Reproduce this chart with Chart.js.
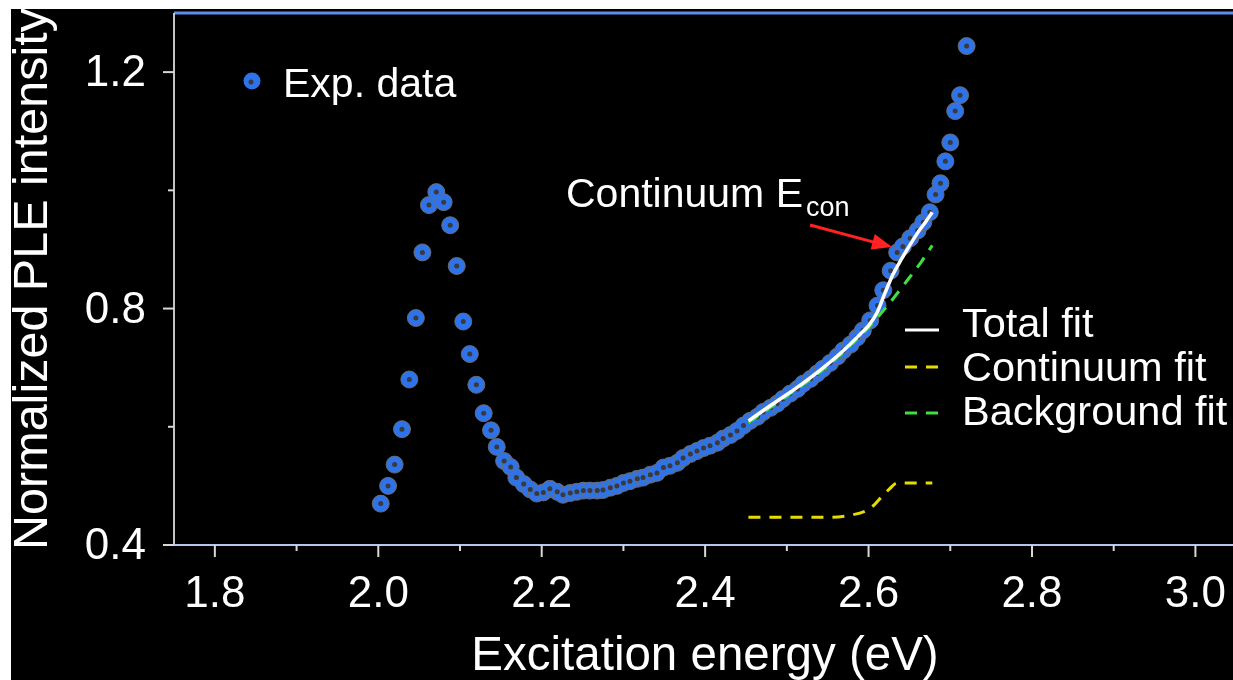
<!DOCTYPE html>
<html>
<head>
<meta charset="utf-8">
<script src="https://cdn.jsdelivr.net/npm/chart.js@4/dist/chart.umd.min.js"></script>
<style>
  html, body { margin: 0; padding: 0; background: #000; overflow: hidden; }
  #wrap { position: absolute; left: 0; top: 0; width: 1233px; height: 680px; }
  #ple-chart { display: block; }
</style>
</head>
<body>
<div id="wrap"><canvas id="ple-chart"></canvas></div>
<script>
// PLE spectrum
const expEnergy = [
    2.003, 2.012, 2.020, 2.029, 2.038, 2.046, 2.054, 2.062, 2.071, 2.080,
    2.088, 2.096, 2.104, 2.112, 2.120, 2.129, 2.138, 2.145, 2.154, 2.162,
    2.169, 2.178, 2.186, 2.194, 2.202, 2.210, 2.219, 2.226, 2.235, 2.243,
    2.251, 2.259, 2.268, 2.275, 2.284, 2.292, 2.300, 2.308, 2.317, 2.324,
    2.333, 2.341, 2.349, 2.357, 2.366, 2.373, 2.382, 2.390, 2.398, 2.406,
    2.415, 2.422, 2.431, 2.439, 2.447, 2.455, 2.464, 2.471, 2.480, 2.488,
    2.495, 2.504, 2.513, 2.520, 2.529, 2.537, 2.544, 2.553, 2.562, 2.569,
    2.578, 2.586, 2.593, 2.602, 2.611, 2.618, 2.627, 2.635, 2.642, 2.651,
    2.660, 2.667, 2.675, 2.682, 2.688, 2.694, 2.700, 2.706, 2.712, 2.720
];
const expIntensity = [
    0.470, 0.500, 0.536, 0.596, 0.680, 0.784, 0.895, 0.975, 0.997, 0.980,
    0.941, 0.872, 0.778, 0.723, 0.671, 0.623, 0.594, 0.566, 0.542, 0.532,
    0.514, 0.503, 0.494, 0.487, 0.489, 0.495, 0.490, 0.485, 0.488, 0.490,
    0.492, 0.492, 0.492, 0.493, 0.497, 0.500, 0.505, 0.508, 0.512, 0.514,
    0.519, 0.522, 0.531, 0.534, 0.539, 0.547, 0.554, 0.559, 0.564, 0.568,
    0.573, 0.580, 0.586, 0.593, 0.602, 0.610, 0.617, 0.625, 0.632, 0.639,
    0.647, 0.656, 0.664, 0.673, 0.681, 0.690, 0.698, 0.708, 0.719, 0.729,
    0.739, 0.751, 0.763, 0.780, 0.805, 0.831, 0.864, 0.895, 0.905, 0.919,
    0.932, 0.946, 0.963, 0.993, 1.012, 1.049, 1.081, 1.134, 1.161, 1.244
];

const totalFitEnergy = [2.453, 2.480, 2.510, 2.540, 2.570, 2.590, 2.600, 2.610, 2.620, 2.630, 2.640, 2.650, 2.660, 2.670, 2.678];
const totalFitValue  = [0.610, 0.636, 0.664, 0.695, 0.730, 0.757, 0.771, 0.792, 0.826, 0.858, 0.883, 0.906, 0.928, 0.947, 0.963];

const contFitEnergy = [2.453, 2.500, 2.550, 2.580, 2.597, 2.607, 2.615, 2.625, 2.635, 2.655, 2.678];
const contFitValue  = [0.447, 0.447, 0.447, 0.451, 0.458, 0.468, 0.480, 0.494, 0.505, 0.505, 0.505];

const bgFitEnergy = [2.453, 2.500, 2.550, 2.600, 2.625, 2.647, 2.665, 2.678];
const bgFitValue  = [0.607, 0.652, 0.703, 0.768, 0.808, 0.847, 0.880, 0.907];

const xMajorTicks = [1.8, 2.0, 2.2, 2.4, 2.6, 2.8, 3.0];
const xMinorTicks = [1.9, 2.1, 2.3, 2.5, 2.7, 2.9];
const yMajorTicks = [0.4, 0.8, 1.2];
const yMinorTicks = [0.6, 1.0];

const FONT = '"Liberation Sans", Arial, Helvetica, sans-serif';
const BLUE = '#2f73ea';

const toPoints = (xs, ys) => xs.map((x, i) => ({ x, y: ys[i] }));

// background, axes, tick marks and all the text
const figureDecor = {
    id: 'figureDecor',
    beforeDraw(chart) {
        const ctx = chart.ctx;
        ctx.save();
        ctx.fillStyle = '#ffffff';
        ctx.fillRect(0, 0, chart.width, chart.height);
        ctx.fillStyle = '#000000';
        ctx.fillRect(11, 9, chart.width, chart.height);
        ctx.restore();
    },
    beforeDatasetsDraw(chart) {
        const { ctx, chartArea: a, scales: { x, y } } = chart;
        ctx.save();
        // top frame
        ctx.strokeStyle = '#5b8ff0';
        ctx.lineWidth = 3;
        ctx.beginPath();
        ctx.moveTo(a.left, a.top);
        ctx.lineTo(a.right, a.top);
        ctx.stroke();
        // left axis
        ctx.strokeStyle = '#c4c4c4';
        ctx.lineWidth = 2;
        ctx.beginPath();
        ctx.moveTo(a.left, a.top);
        ctx.lineTo(a.left, a.bottom);
        ctx.stroke();
        // bottom axis
        ctx.strokeStyle = '#b4c6f0';
        ctx.beginPath();
        ctx.moveTo(a.left - 11, a.bottom);
        ctx.lineTo(a.right, a.bottom);
        ctx.stroke();

        ctx.strokeStyle = '#d8d8d8';
        ctx.lineWidth = 2;
        xMajorTicks.forEach(v => {
            const px = x.getPixelForValue(v);
            ctx.beginPath(); ctx.moveTo(px, a.bottom); ctx.lineTo(px, a.bottom + 12); ctx.stroke();
        });
        xMinorTicks.forEach(v => {
            const px = x.getPixelForValue(v);
            ctx.beginPath(); ctx.moveTo(px, a.bottom); ctx.lineTo(px, a.bottom + 6); ctx.stroke();
        });
        yMajorTicks.forEach(v => {
            const py = y.getPixelForValue(v);
            ctx.beginPath(); ctx.moveTo(a.left - 11, py); ctx.lineTo(a.left, py); ctx.stroke();
        });
        yMinorTicks.forEach(v => {
            const py = y.getPixelForValue(v);
            ctx.beginPath(); ctx.moveTo(a.left - 6, py); ctx.lineTo(a.left, py); ctx.stroke();
        });
        ctx.restore();
    },
    afterDraw(chart) {
        const { ctx, chartArea: a, scales: { x, y } } = chart;
        ctx.save();
        ctx.fillStyle = '#ffffff';

        // tick labels
        ctx.font = `44px ${FONT}`;
        ctx.textBaseline = 'alphabetic';
        ctx.textAlign = 'center';
        xMajorTicks.forEach(v => {
            ctx.fillText(v.toFixed(1), x.getPixelForValue(v), a.bottom + 62);
        });
        ctx.textAlign = 'right';
        yMajorTicks.forEach(v => {
            ctx.fillText(v.toFixed(1), 146, y.getPixelForValue(v) + 14);
        });

        // axis titles
        ctx.font = `47.5px ${FONT}`;
        ctx.textAlign = 'center';
        ctx.fillText('Excitation energy (eV)', 705, 670);
        ctx.save();
        ctx.translate(34, 279);
        ctx.rotate(-Math.PI / 2);
        ctx.textBaseline = 'middle';
        ctx.font = `48.5px ${FONT}`;
        ctx.fillText('Normalized PLE intensity', 0, 0);
        ctx.restore();

        // legend: Exp. data
        ctx.beginPath();
        ctx.arc(252, 81, 8.5, 0, Math.PI * 2);
        ctx.fillStyle = BLUE;
        ctx.fill();
        ctx.beginPath();
        ctx.arc(251, 82, 2.5, 0, Math.PI * 2);
        ctx.fillStyle = '#3a3a3a';
        ctx.fill();
        ctx.fillStyle = '#ffffff';
        ctx.font = `41px ${FONT}`;
        ctx.textAlign = 'left';
        ctx.fillText('Exp. data', 283, 97);

        // legend: fits
        const rows = [
            { label: 'Total fit', color: '#ffffff', dash: [], y: 330, base: 337 },
            { label: 'Continuum fit', color: '#e6dc00', dash: [12, 9], y: 367, base: 381 },
            { label: 'Background fit', color: '#3ee03e', dash: [12, 9], y: 413, base: 425 }
        ];
        ctx.font = `41.5px ${FONT}`;
        rows.forEach(r => {
            ctx.save();
            ctx.strokeStyle = r.color;
            ctx.lineWidth = 3;
            ctx.setLineDash(r.dash);
            ctx.beginPath();
            ctx.moveTo(905, r.y);
            ctx.lineTo(939, r.y);
            ctx.stroke();
            ctx.restore();
            ctx.fillText(r.label, 962, r.base);
        });

        // annotation
        ctx.font = `41px ${FONT}`;
        const mainText = 'Continuum E';
        ctx.fillText(mainText, 566, 207);
        const subX = 566 + ctx.measureText(mainText).width + 3;
        ctx.font = `27px ${FONT}`;
        ctx.fillText('con', subX, 216);

        // red arrow
        const tx = 892, ty = 247, sx = 810, sy = 225;
        const ang = Math.atan2(ty - sy, tx - sx);
        ctx.strokeStyle = '#ff2222';
        ctx.fillStyle = '#ff2222';
        ctx.lineWidth = 3;
        ctx.beginPath();
        ctx.moveTo(sx, sy);
        ctx.lineTo(tx - 16 * Math.cos(ang), ty - 16 * Math.sin(ang));
        ctx.stroke();
        ctx.beginPath();
        ctx.moveTo(tx, ty);
        ctx.lineTo(tx - 20 * Math.cos(ang) + 8 * Math.sin(ang), ty - 20 * Math.sin(ang) - 8 * Math.cos(ang));
        ctx.lineTo(tx - 20 * Math.cos(ang) - 8 * Math.sin(ang), ty - 20 * Math.sin(ang) + 8 * Math.cos(ang));
        ctx.closePath();
        ctx.fill();

        ctx.restore();
    }
};

const expPoints = toPoints(expEnergy, expIntensity);

new Chart(document.getElementById('ple-chart'), {
    type: 'scatter',
    data: {
        datasets: [
            {
                label: 'Total fit',
                data: toPoints(totalFitEnergy, totalFitValue),
                showLine: true,
                borderColor: '#ffffff',
                borderWidth: 3.5,
                pointRadius: 0,
                cubicInterpolationMode: 'monotone',
                order: 0
            },
            {
                label: 'Continuum fit',
                data: toPoints(contFitEnergy, contFitValue),
                showLine: true,
                borderColor: '#e6dc00',
                borderWidth: 3,
                borderDash: [12, 9],
                pointRadius: 0,
                cubicInterpolationMode: 'monotone',
                order: 0
            },
            {
                label: 'Background fit',
                data: toPoints(bgFitEnergy, bgFitValue),
                showLine: true,
                borderColor: '#3ee03e',
                borderWidth: 3,
                borderDash: [12, 9],
                pointRadius: 0,
                cubicInterpolationMode: 'monotone',
                order: 0
            },
            {
                label: 'Exp. data centres',
                data: expPoints,
                pointRadius: 2.5,
                pointBackgroundColor: '#3a3a3a',
                pointBorderWidth: 0,
                order: 1
            },
            {
                label: 'Exp. data',
                data: expPoints,
                pointRadius: 8.5,
                pointBackgroundColor: BLUE,
                pointBorderColor: 'rgba(110,110,110,0.9)',
                pointBorderWidth: 1,
                order: 2
            }
        ]
    },
    options: {
        responsive: true,
        maintainAspectRatio: false,
        devicePixelRatio: 1,
        animation: false,
        layout: {
            autoPadding: false,
            padding: { left: 174, top: 13, right: 0, bottom: 135 }
        },
        plugins: {
            legend: { display: false },
            tooltip: { enabled: false }
        },
        scales: {
            x: { type: 'linear', min: 1.75, max: 3.046, display: false },
            y: { type: 'linear', min: 0.4, max: 1.3, display: false }
        }
    },
    plugins: [figureDecor]
});
</script>
</body>
</html>
